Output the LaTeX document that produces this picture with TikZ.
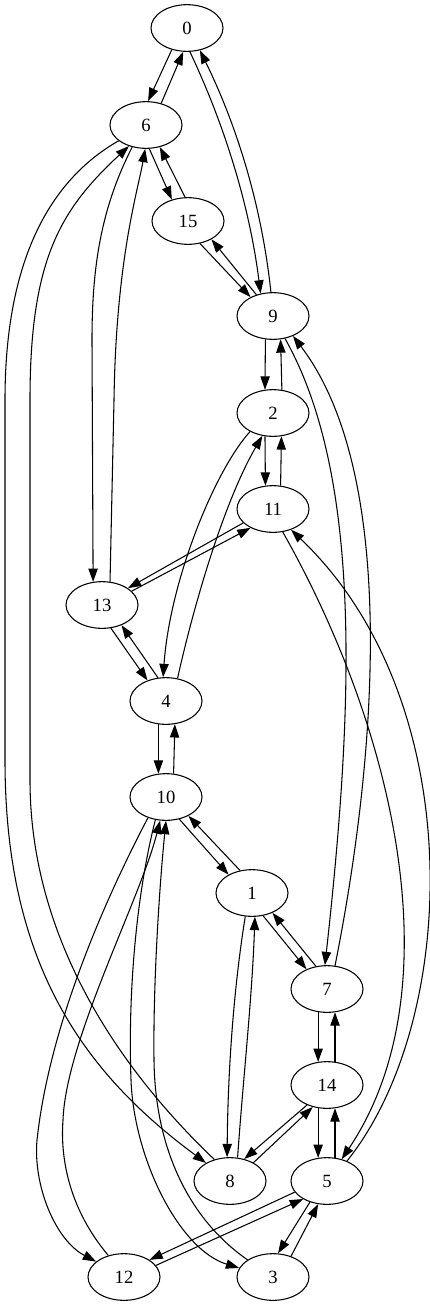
\documentclass[tikz,border=0pt]{standalone}
\usepackage{fontspec}
\setmainfont{Liberation Serif}
\usetikzlibrary{shapes.geometric}
\usetikzlibrary{arrows.meta}

\begin{document}
\begin{tikzpicture}[x=0.75pt,y=-0.75pt,line width=0.8pt,>={Triangle[length=10pt,width=7pt]},
    vertex/.style={ellipse,draw,minimum width=54pt,minimum height=35pt,inner sep=0pt,font=\fontsize{14}{16}\selectfont}]
    \useasboundingbox (0,0) rectangle (429,1307);

    \node[vertex] (n0) at (187,28) {0};
    \node[vertex] (n6) at (146,125) {6};
    \node[vertex] (n15) at (188,221) {15};
    \node[vertex] (n9) at (273,316) {9};
    \node[vertex] (n2) at (273,413) {2};
    \node[vertex] (n11) at (273,509) {11};
    \node[vertex] (n13) at (102,605) {13};
    \node[vertex] (n4) at (166,701) {4};
    \node[vertex] (n10) at (166,797) {10};
    \node[vertex] (n1) at (252,893) {1};
    \node[vertex] (n7) at (327,989) {7};
    \node[vertex] (n14) at (327,1085) {14};
    \node[vertex] (n8) at (230,1181) {8};
    \node[vertex] (n5) at (327,1181) {5};
    \node[vertex] (n12) at (124,1277) {12};
    \node[vertex] (n3) at (273,1277) {3};

    \draw[->] (n0.-125) -- (n6.85);
    \draw[->] (n6.55) -- (n0.-99);
    \draw[->] (n0.-83) .. controls (226,128) and (250,209) .. (n9.119);
    \draw[->] (n9.95) .. controls (262,208) and (238,128) .. (n0.-60);
    \draw[->] (n6.-82) -- (n15.127);
    \draw[->] (n15.97) -- (n6.-58);
    \draw[->] (n15.-62) -- (n9.140);
    \draw[->] (n9.128) -- (n15.-38);
    \draw[->] (n9.-108) -- (n2.109);
    \draw[->] (n2.69) -- (n9.-72);
    \draw[->] (n9.-62) .. controls (365,480) and (352,720) .. (n7.95);
    \draw[->] (n7.71) .. controls (380,740) and (395,470) .. (n9.-45);
    \draw[->] (n2.-109) -- (n11.108);
    \draw[->] (n11.72) -- (n2.-70);
    \draw[->] (n2.-141) .. controls (215,470) and (170,580) .. (n4.97);
    \draw[->] (n4.63) .. controls (195,600) and (225,500) .. (n2.-115);
    \draw[->] (n11.-155) -- (n13.33);
    \draw[->] (n13.25) -- (n11.-140);
    \draw[->] (n11.-67) .. controls (395,730) and (455,990) .. (n5.56);
    \draw[->] (n5.45) .. controls (460,1020) and (470,700) .. (n11.-49);
    \draw[->] (n6.-150) .. controls (50,180) and (5,260) .. (5,400) -- (5,760) .. controls (5,960) and (80,1070) .. (n8.143);
    \draw[->] (n8.126) .. controls (110,1060) and (30,930) .. (30,780) -- (30,400) .. controls (30,260) and (60,210) .. (n6.-129);
    \draw[->] (n6.-122) .. controls (100,210) and (92,270) .. (92,340) -- (n13.111);
    \draw[->] (n13.71) -- (114,400) .. controls (116,260) and (138,190) .. (n6.-92);
    \draw[->] (n13.-69) -- (n4.132);
    \draw[->] (n4.109) -- (n13.-46);
    \draw[->] (n4.-108) -- (n10.108);
    \draw[->] (n10.72) -- (n4.-69);
    \draw[->] (n10.-59) -- (n1.142);
    \draw[->] (n1.118) -- (n10.-40);
    \draw[->] (n10.-131) .. controls (110,890) and (50,1020) .. (37,1140) .. controls (33,1185) and (55,1240) .. (n12.151);
    \draw[->] (n12.126) .. controls (70,1210) and (60,1160) .. (63,1120) .. controls (66,1040) and (140,900) .. (n10.-104);
    \draw[->] (n10.-115) .. controls (135,900) and (128,1000) .. (131,1080) .. controls (134,1160) and (180,1250) .. (n3.165);
    \draw[->] (n3.146) .. controls (190,1220) and (155,1150) .. (154,1060) .. controls (153,980) and (160,880) .. (n10.-90);
    \draw[->] (n1.-64) -- (n7.136);
    \draw[->] (n7.116) -- (n1.-44);
    \draw[->] (n1.-106) .. controls (235,980) and (228,1060) .. (n8.97);
    \draw[->] (n8.72) .. controls (243,1080) and (252,1000) .. (n1.-83);
    \draw[->] (n7.-111) -- (n14.111);
    \draw[->] (n14.71) -- (n7.-71);
    \draw[->] (n14.-135) -- (n8.57);
    \draw[->] (n8.38) -- (n14.-123);
    \draw[->] (n14.-111) -- (n5.111);
    \draw[->] (n5.71) -- (n14.-71);
    \draw[->] (n5.-161) -- (n12.34);
    \draw[->] (n12.20) -- (n5.-143);
    \draw[->] (n5.-129) -- (n3.78);
    \draw[->] (n3.49) -- (n5.-111);
\end{tikzpicture}
\end{document}
